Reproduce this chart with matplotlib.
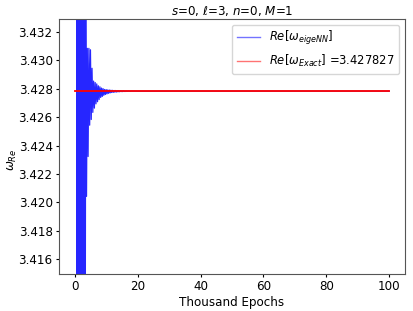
import matplotlib
matplotlib.use('Agg')
import matplotlib.pyplot as plt
import numpy as np

# exact quasinormal frequency (real part)
omega_exact = 3.427827

# training epochs (thousands): dense part then sparse tail
epochs_dense = np.arange(0.5, 20.01, 0.25)
epochs_tail = [25, 30, 40, 50, 60, 70, 80, 90, 100]

# deviation of Re[omega_eigeNN] from exact value, in units of 1e-3
dev_dense = [40, -45, 35, -40, 50, -38, 42, -50, 36, -44, 30, -35,
             6.0, -7.4, 3.0, -4.6, 3.0, -2.4, 2.9, -2.0, 1.6, -1.5,
             0.7, -1.2, 0.6, -0.9, 0.5, -0.75, 0.37, -0.6, 0.3, -0.45,
             0.21, -0.38, 0.17, -0.3, 0.11, -0.24, 0.1, -0.2, 0.08, -0.16,
             0.07, -0.13, 0.06, -0.1, 0.05, -0.09, 0.04, -0.08, 0.04, -0.07,
             0.03, -0.06, 0.03, -0.05, 0.02, -0.04, 0.02, -0.04, 0.02, -0.03,
             0.01, -0.03, 0.01, -0.02, 0.01, -0.02, 0.0, -0.02, 0.0, -0.01,
             0.0, -0.01, 0.0, -0.01, 0.0, -0.01, -0.01]
dev_tail = [-0.01, -0.005, -0.005, -0.005, -0.005, -0.005, -0.005, -0.005, -0.005]

epochs = np.concatenate([epochs_dense, epochs_tail])
omega_nn = omega_exact + np.array(dev_dense + dev_tail) * 1e-3

fs = 8.6
fig = plt.figure(figsize=(4.14, 3.11), dpi=100)
ax = fig.add_axes([59/414, 1-274/311, 346/414, 255/311])

ax.plot(epochs, omega_nn, color='blue', alpha=0.85, lw=0.9, label=r'$Re[\omega_{eigeNN}]$')
ax.plot([0, 100], [omega_exact, omega_exact], color='red', lw=1.3, zorder=5,
        label=r'$Re[\omega_{Exact}]$ =3.427827')

ax.set_ylim(3.41497, 3.43289)
ax.set_xlim(-5, 105)
ax.set_xticks([0, 20, 40, 60, 80, 100])
ax.set_yticks([3.416, 3.418, 3.420, 3.422, 3.424, 3.426, 3.428, 3.430, 3.432])
ax.tick_params(labelsize=fs, length=2.3, pad=2.3)
for sp in ax.spines.values():
    sp.set_color('#555555')
ax.set_xlabel('Thousand Epochs', fontsize=fs, labelpad=2)
ax.set_ylabel(r'$\omega_{Re}$', fontsize=fs)
ax.yaxis.set_label_coords(-0.115, 0.45)
ax.set_title(r'$s$=0, $\ell$=3, $n$=0, $M$=1', fontsize=fs, pad=3)
leg = ax.legend(loc='upper right', fontsize=8.3)
for h in leg.get_lines():
    h.set_alpha(0.55)
    h.set_linewidth(1.0)

fig.savefig('out.png', dpi=100)
